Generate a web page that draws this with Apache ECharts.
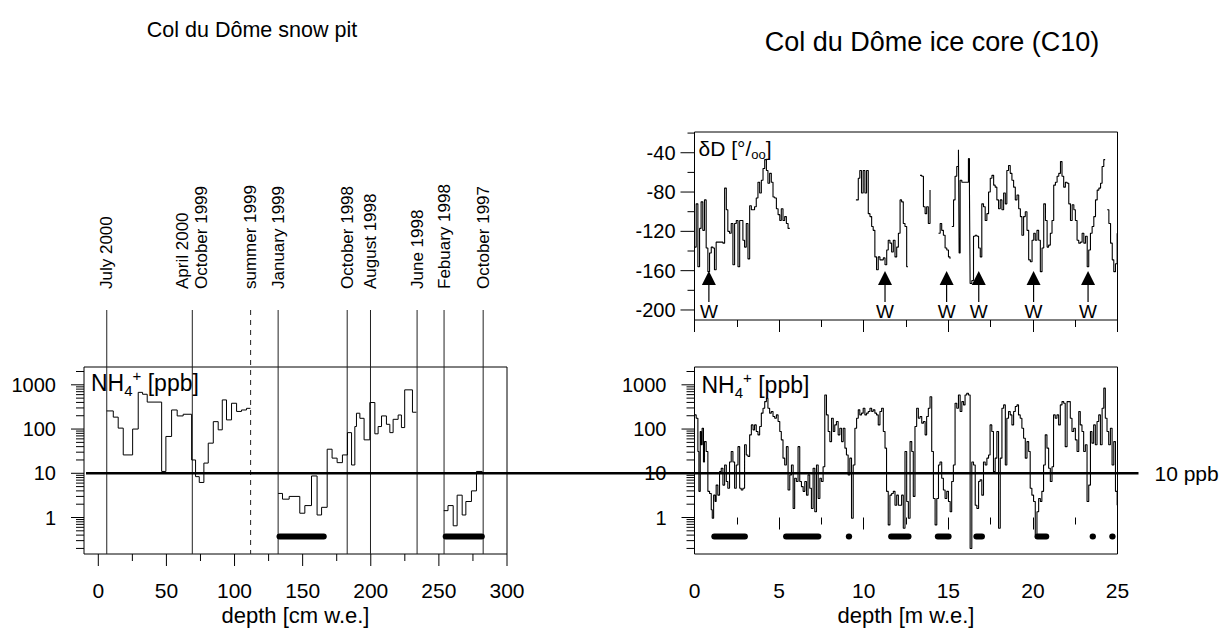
<!DOCTYPE html>
<html><head><meta charset="utf-8">
<script src="https://cdn.jsdelivr.net/npm/echarts@6/dist/echarts.min.js"></script>
<style>html,body{margin:0;padding:0;background:#fff}#c{width:1228px;height:633px}</style>
</head><body><div id="c"></div>
<script>
const FONT = '"Liberation Sans", Arial, Helvetica, sans-serif';

// ---------------- DATA ----------------
// Snow pit: [depth cm w.e. where the step starts, NH4+ ppb]; last row closes the segment
const pitSeg1 = [[6.1,257],[11,186],[14.6,105],[18.3,26],[25.2,100],[29.3,676],[32.5,612],[35.9,407],[46.5,11],[49.6,68],[53.8,270],[57.9,198],[62.3,216],[68.5,20],[71.4,8.4],[74.1,6.2],[77.5,17],[80.7,48],[84.4,147],[88,96],[91,456],[94.1,161],[97.8,383],[101.5,250],[105.1,270],[108.8,294],[111.7,294]];
const pitSeg2 = [[132,3.5],[135.2,2.6],[140.1,3.0],[147.9,1.25],[151.6,1.86],[156.5,8.7],[160.6,1.14],[163.9,1.7],[168,35],[171.6,22],[175.3,17.4],[179.2,26],[182.9,83],[185.9,15.4],[188.3,114],[189.5,228],[192,175],[195.1,57],[199.3,398],[203,78],[205.4,114],[207.9,198],[211.5,128],[214,83],[216.4,166],[220.1,208],[222.5,108],[224.9,770],[230.6,240],[233.5,240]];
const pitSeg3 = [[253.6,1.43],[256.7,1.86],[260.5,0.65],[263.4,3.2],[267.1,1.14],[269.8,2.3],[273.9,4.0],[277.6,11],[282,11]];
// low-NH4 intervals (thick bars), cm w.e.
const pitLowBars = [[133,165.5],[255,281.5]];
// dating horizons
const pitDateDepths = [6.2, 69, 111.8, 132, 182.7, 199.8, 234, 253.8, 282.5];
const pitDateLabels = ['July 2000','April 2000\nOctober 1999','summer 1999','January 1999','October 1998','August 1998','June 1998','Febuary 1998','October 1997'];
const pitDateUncertain = [false,false,true,false,false,false,false,false,false];

// Ice core C10 NH4+: [depth m w.e., ppb]
const coreNH4 = [[0.00,209],[0.10,176],[0.20,31],[0.26,3.9],[0.34,88],[0.39,44],[0.45,104],[0.53,18],[0.59,52],[0.69,31],[0.79,3.9],[0.89,3.5],[0.99,1.5],[1.05,0.96],[1.13,3.2],[1.22,2.3],[1.28,5.4],[1.38,3.2],[1.48,10.9],[1.58,13],[1.68,5.4],[1.78,15.4],[1.88,6.5],[1.97,4.6],[2.07,18],[2.17,31],[2.27,18],[2.37,4.6],[2.47,15.4],[2.57,40],[2.67,4.6],[2.76,4.2],[2.86,4.6],[2.96,44],[3.06,26],[3.16,24],[3.26,74],[3.36,124],[3.46,96],[3.55,124],[3.65,88],[3.75,74],[3.85,114],[3.95,229],[4.05,296],[4.15,418],[4.25,497],[4.34,296],[4.44,229],[4.54,249],[4.64,192],[4.74,176],[4.84,209],[4.94,148],[5.04,88],[5.13,57],[5.23,22],[5.33,15.4],[5.43,40],[5.53,4.2],[5.63,9.2],[5.73,15.4],[5.83,1.6],[5.92,7.7],[6.02,6.5],[6.12,40],[6.22,6.5],[6.32,5.0],[6.42,3.9],[6.52,6.5],[6.62,3.2],[6.71,9.2],[6.81,4.6],[6.91,1.6],[7.01,13],[7.11,1.35],[7.21,15.4],[7.31,2.7],[7.41,7.7],[7.50,6.5],[7.60,14.1],[7.70,589],[7.80,209],[7.90,88],[8.00,52],[8.10,176],[8.20,88],[8.29,124],[8.39,148],[8.49,74],[8.59,104],[8.69,52],[8.79,104],[8.89,37],[8.98,26],[9.08,9.2],[9.18,22],[9.28,0.96],[9.38,15.4],[9.48,104],[9.58,176],[9.68,272],[9.77,209],[9.87,229],[9.97,296],[10.07,209],[10.17,229],[10.27,249],[10.37,296],[10.47,249],[10.56,272],[10.66,229],[10.76,209],[10.86,124],[10.96,249],[11.06,296],[11.16,88],[11.26,37],[11.35,3.9],[11.45,0.68],[11.55,3.2],[11.65,3.5],[11.75,3.9],[11.85,1.9],[11.95,3.2],[12.05,1.9],[12.24,3.2],[12.34,0.57],[12.44,31],[12.54,2.3],[12.64,0.96],[12.74,52],[12.84,31],[12.93,3.0],[13.03,114],[13.13,296],[13.23,176],[13.33,192],[13.43,136],[13.53,148],[13.63,74],[13.72,192],[13.82,296],[13.92,539],[14.02,31],[14.12,2.7],[14.22,0.68],[14.32,2.7],[14.42,15.4],[14.51,18],[14.61,7.7],[14.71,4.2],[14.81,2.7],[14.91,3.9],[15.01,2.3],[15.11,1.35],[15.20,6.5],[15.30,15.4],[15.40,383],[15.50,296],[15.60,589],[15.70,249],[15.80,418],[15.90,352],[15.99,589],[16.09,646],[16.19,589],[16.29,0.20],[16.39,18],[16.49,15.4],[16.59,1.9],[16.69,1.6],[16.79,6.5],[16.88,7.1],[16.98,3.2],[17.08,18],[17.18,15.4],[17.28,22],[17.38,26],[17.47,124],[17.57,88],[17.67,10.9],[17.77,22],[17.87,88],[17.97,0.57],[18.07,22],[18.17,296],[18.27,352],[18.37,15.4],[18.46,176],[18.56,249],[18.66,209],[18.76,124],[18.86,249],[18.96,323],[19.06,352],[19.15,209],[19.25,176],[19.35,104],[19.45,62],[19.55,22],[19.65,52],[19.75,31],[19.84,4.6],[19.94,3.2],[20.04,2.3],[20.14,0.40],[20.24,1.35],[20.34,2.7],[20.44,2.3],[20.53,3.9],[20.63,15.4],[20.73,74],[20.83,37],[20.93,13],[21.03,6.5],[21.13,14.1],[21.22,209],[21.32,176],[21.42,209],[21.52,124],[21.62,352],[21.72,418],[21.82,383],[21.91,40],[22.02,418],[22.11,418],[22.21,176],[22.31,88],[22.41,104],[22.51,57],[22.61,31],[22.71,249],[22.80,124],[22.90,88],[23.00,31],[23.10,44],[23.20,2.3],[23.30,5.4],[23.40,88],[23.49,48],[23.59,124],[23.69,44],[23.79,148],[23.89,209],[23.99,44],[24.09,296],[24.19,840],[24.28,176],[24.38,88],[24.48,44],[24.58,104],[24.68,15.4],[24.78,52],[24.88,3.9],[24.98,1.9],[25.0,1.9]];
const coreLowBars = [[1.17,2.98],[5.41,7.32],[9.12,9.14],[11.62,12.65],[14.38,15.02],[16.66,16.99],[20.27,20.79],[23.53,23.55],[24.69,24.71]];

// Ice core C10 deltaD (per mil): segments [depth m w.e., dD]
const dDSeg1 = [[0.00,-136],[0.10,-92],[0.20,-156],[0.30,-117],[0.39,-90],[0.49,-119],[0.59,-88],[0.69,-137],[0.79,-161],[0.89,-142],[0.99,-136],[1.09,-137],[1.18,-159],[1.28,-131],[1.68,-132],[1.78,-76],[1.88,-98],[1.97,-120],[2.07,-122],[2.17,-112],[2.27,-154],[2.37,-112],[2.47,-109],[2.57,-156],[2.67,-109],[2.86,-129],[2.96,-136],[3.06,-112],[3.16,-148],[3.26,-94],[3.36,-98],[3.55,-95],[3.65,-86],[3.75,-70],[3.85,-81],[3.95,-68],[4.05,-56],[4.15,-47],[4.25,-58],[4.34,-71],[4.44,-61],[4.54,-70],[4.64,-85],[4.74,-86],[4.84,-97],[4.94,-103],[5.04,-109],[5.13,-97],[5.23,-109],[5.33,-105],[5.43,-112],[5.53,-117],[5.63,-117]];
const dDSeg2 = [[9.54,-88],[9.68,-66],[9.77,-58],[9.87,-81],[9.97,-58],[10.07,-81],[10.17,-58],[10.27,-102],[10.37,-105],[10.47,-115],[10.56,-119],[10.66,-146],[10.76,-159],[10.86,-146],[10.96,-149],[11.16,-147],[11.26,-154],[11.36,-139],[11.45,-129],[11.55,-132],[11.65,-141],[11.75,-129],[11.85,-146],[11.95,-136],[12.05,-122],[12.15,-88],[12.24,-90],[12.34,-112],[12.44,-115],[12.54,-156],[12.62,-156]];
const dDSeg3 = [[13.33,-63],[13.43,-64],[13.53,-95],[13.63,-102],[13.72,-95],[13.82,-112],[13.92,-78],[13.96,-78]];
const dDSeg4 = [[14.42,-122],[14.52,-112],[14.61,-119],[14.71,-124],[14.81,-137],[14.91,-139],[15.01,-146],[15.10,-148]];
const dDSeg5 = [[15.21,-115],[15.31,-88],[15.40,-64],[15.50,-54],[15.60,-37],[15.64,-142],[15.70,-68],[15.80,-70],[16.09,-70],[16.19,-46],[16.25,-78],[16.29,-173],[16.39,-170],[16.49,-125],[16.59,-124],[16.69,-125],[16.79,-137],[16.89,-146],[16.98,-92],[17.08,-95],[17.18,-109],[17.28,-102],[17.38,-80],[17.48,-66],[17.58,-63],[17.68,-73],[17.77,-75],[17.87,-88],[17.97,-97],[18.07,-88],[18.17,-98],[18.27,-81],[18.37,-92],[18.46,-58],[18.56,-53],[18.66,-61],[18.76,-68],[18.86,-75],[18.96,-88],[19.06,-83],[19.16,-97],[19.26,-105],[19.35,-124],[19.45,-105],[19.55,-100],[19.65,-119],[19.75,-149],[19.85,-151],[19.95,-129],[20.05,-122],[20.14,-129],[20.24,-119],[20.34,-129],[20.44,-161],[20.54,-137],[20.64,-92],[20.74,-109],[20.84,-136],[20.93,-134],[21.03,-122],[21.13,-109],[21.23,-73],[21.33,-70],[21.43,-64],[21.53,-61],[21.63,-49],[21.72,-64],[21.82,-75],[21.92,-70],[22.02,-71],[22.12,-92],[22.22,-109],[22.32,-93],[22.42,-98],[22.51,-109],[22.61,-129],[22.71,-132],[22.81,-131],[22.91,-122],[23.01,-132],[23.11,-125],[23.21,-156],[23.30,-139],[23.40,-122],[23.50,-115],[23.60,-105],[23.70,-88],[23.80,-78],[23.90,-76],[24.00,-71],[24.09,-54],[24.19,-47],[24.27,-47]];
const dDSeg6 = [[24.39,-98],[24.49,-112],[24.59,-132],[24.69,-149],[24.78,-161],[24.88,-153],[24.98,-122],[25.0,-122]];
// winter markers (m w.e.)
const winterDepths = [0.85, 11.26, 14.9, 16.8, 20.04, 23.26];
const winterLabel = 'W';

// threshold
const THRESHOLD_PPB = 10;
const LOW_BAR_LEVEL_PPB = 0.37;

// axis ranges & ticks
const PIT_X = [-10.5, 300];
const CORE_X = [0, 25];
const NH4_LOG = [-0.825, 3.403];
const DD_Y = [-210.2, -18.9];
const pitXMajor = [0,50,100,150,200,250,300];
const pitXMajorLabels = ['0','50','100','150','200','250','300'];
const pitXMinor = [25,75,125,175,225,275];
const nh4Major = [1,10,100,1000];
const nh4MajorLabels = ['1','10','100','1000'];
const nh4Minor = [0.2,0.3,0.4,0.5,0.6,0.7,0.8,0.9,2,3,4,5,6,7,8,9,20,30,40,50,60,70,80,90,200,300,400,500,600,700,800,900,2000];
const dDMajor = [-200,-160,-120,-80,-40];
const dDMajorLabels = ['-200','-160','-120','-80','-40'];
const dDMinor = [-180,-140,-100,-60,-20];

// ---------------- BUILD ----------------
const lg = v => Math.log10(v);
function joinSegs(segs, f) {
  const out = [];
  segs.forEach((s, i) => { if (i) out.push(['-', '-']); s.forEach(p => out.push([p[0], f ? f(p[1]) : p[1]])); });
  return out;
}
function tickList(major, labels, minor, f) {
  const t = major.map((v, i) => ({v: f ? f(v) : v, label: labels[i]}));
  minor.forEach(v => t.push({v: f ? f(v) : v, label: null}));
  return t;
}
function yTicks(idx, anchor, ticks, majorLen, minorLen, gap, fs) {
  return {
    type: 'custom', xAxisIndex: idx, yAxisIndex: idx, clip: false, silent: true, z: 10,
    data: ticks.map(t => [anchor, t.v]), encode: {x: 0, y: 1},
    renderItem(params, api) {
      const t = ticks[params.dataIndex];
      const p = api.coord([api.value(0), api.value(1)]);
      const len = t.label != null ? majorLen : minorLen;
      const ch = [{type: 'line', shape: {x1: p[0] - len, y1: p[1], x2: p[0], y2: p[1]}, style: {stroke: '#000', lineWidth: 1}}];
      if (t.label != null) ch.push({type: 'text', style: {text: t.label, x: p[0] - majorLen - gap, y: p[1], align: 'right', verticalAlign: 'middle', fontSize: fs, fontFamily: FONT, fill: '#000'}});
      return {type: 'group', children: ch};
    }
  };
}
function xTicks(idx, anchor, ticks, majorLen, minorLen, offset, fs) {
  return {
    type: 'custom', xAxisIndex: idx, yAxisIndex: idx, clip: false, silent: true, z: 10,
    data: ticks.map(t => [t.v, anchor]), encode: {x: 0, y: 1},
    renderItem(params, api) {
      const t = ticks[params.dataIndex];
      const p = api.coord([api.value(0), api.value(1)]);
      const len = t.label != null ? majorLen : minorLen;
      const ch = [{type: 'line', shape: {x1: p[0], y1: p[1], x2: p[0], y2: p[1] + len}, style: {stroke: '#000', lineWidth: 1}}];
      if (t.label != null) ch.push({type: 'text', style: {text: t.label, x: p[0], y: p[1] + offset, align: 'center', verticalAlign: 'middle', fontSize: fs, fontFamily: FONT, fill: '#000'}});
      return {type: 'group', children: ch};
    }
  };
}
function barSeries(idx, bars, level) {
  return {
    type: 'custom', xAxisIndex: idx, yAxisIndex: idx, silent: true, z: 4,
    data: bars.map(b => [b[0], level, b[1]]), encode: {x: [0, 2], y: 1},
    renderItem(params, api) {
      const a = api.coord([api.value(0), api.value(1)]);
      const b = api.coord([api.value(2), api.value(1)]);
      return {type: 'line', shape: {x1: a[0], y1: a[1], x2: b[0], y2: b[1]}, style: {stroke: '#000', lineWidth: 6, lineCap: 'round'}};
    }
  };
}
const stepLine = (idx, data, w) => ({type: 'line', xAxisIndex: idx, yAxisIndex: idx, data, step: 'end', symbol: 'none', connectNulls: false, silent: true, z: 3, lineStyle: {color: '#000', width: w || 1}});
const hiddenAxis = (gi, range, extra) => Object.assign({type: 'value', gridIndex: gi, min: range[0], max: range[1], axisLine: {show: false}, axisTick: {show: false}, axisLabel: {show: false}, splitLine: {show: false}}, extra || {});
const box = {show: true, borderColor: '#000', borderWidth: 1, backgroundColor: 'transparent'};

const coreX = (gi, withLabels) => ({
  type: 'value', gridIndex: gi, min: CORE_X[0], max: CORE_X[1], interval: 5,
  axisLine: {show: false}, splitLine: {show: false},
  axisTick: {show: true, length: 12, lineStyle: {color: '#000', width: 1}},
  minorTick: {show: true, splitNumber: 2, length: 7, lineStyle: {color: '#000', width: 1}},
  axisLabel: {show: withLabels, fontSize: 21, fontFamily: FONT, color: '#000', margin: 26},
  name: withLabels ? 'depth [m w.e.]' : '', nameLocation: 'middle', nameGap: 50,
  nameTextStyle: {fontSize: 22, fontFamily: FONT, color: '#000'}
});

const option = {
  animation: false,
  backgroundColor: '#fff',
  title: [
    {text: 'Col du Dôme snow pit', left: 252, top: 19, textAlign: 'center', padding: 0, textStyle: {fontSize: 21.5, fontWeight: 'normal', fontFamily: FONT, color: '#000'}},
    {text: 'Col du Dôme ice core (C10)', left: 932, top: 28, textAlign: 'center', padding: 0, textStyle: {fontSize: 27, fontWeight: 'normal', fontFamily: FONT, color: '#000'}}
  ],
  grid: [
    Object.assign({left: 84, top: 367, width: 423, height: 187}, box),
    Object.assign({left: 694.5, top: 367, width: 423, height: 187}, box),
    Object.assign({left: 694.5, top: 132, width: 423, height: 188}, box)
  ],
  xAxis: [
    hiddenAxis(0, PIT_X, {name: 'depth [cm w.e.]', nameLocation: 'middle', nameGap: 50, nameTextStyle: {fontSize: 22, fontFamily: FONT, color: '#000'}}),
    coreX(1, true),
    coreX(2, false)
  ],
  yAxis: [hiddenAxis(0, NH4_LOG), hiddenAxis(1, NH4_LOG), hiddenAxis(2, DD_Y)],
  series: [
    stepLine(0, joinSegs([pitSeg1, pitSeg2, pitSeg3], lg)),
    barSeries(0, pitLowBars, lg(LOW_BAR_LEVEL_PPB)),
    {
      type: 'custom', xAxisIndex: 0, yAxisIndex: 0, clip: false, silent: true, z: 2,
      data: pitDateDepths.map(d => [d, NH4_LOG[0]]), encode: {x: 0, y: 1},
      renderItem(params, api) {
        const i = params.dataIndex;
        const p = api.coord([api.value(0), api.value(1)]);
        return {type: 'group', children: [
          {type: 'line', shape: {x1: p[0], y1: p[1] - 244, x2: p[0], y2: p[1]}, style: {stroke: '#222', lineWidth: 1, lineDash: pitDateUncertain[i] ? [5, 5] : null}},
          {type: 'text', x: p[0], y: p[1] - 265, rotation: Math.PI / 2, style: {text: pitDateLabels[i], x: 0, y: 0, align: 'left', verticalAlign: 'middle', fontSize: 17, lineHeight: 19, fontFamily: FONT, fill: '#000'}}
        ]};
      }
    },
    stepLine(1, joinSegs([coreNH4], lg), 1.1),
    barSeries(1, coreLowBars, lg(LOW_BAR_LEVEL_PPB)),
    stepLine(2, joinSegs([dDSeg1, dDSeg2, dDSeg3, dDSeg4, dDSeg5, dDSeg6]), 1.1),
    {
      type: 'custom', xAxisIndex: 2, yAxisIndex: 2, clip: false, silent: true, z: 6,
      data: winterDepths.map(d => [d, DD_Y[0]]), encode: {x: 0, y: 1},
      renderItem(params, api) {
        const p = api.coord([api.value(0), api.value(1)]);
        const x = p[0], b = p[1];
        return {type: 'group', children: [
          {type: 'polygon', shape: {points: [[x, b - 49], [x - 7, b - 35], [x + 7, b - 35]]}, style: {fill: '#000'}},
          {type: 'line', shape: {x1: x, y1: b - 35, x2: x, y2: b - 18}, style: {stroke: '#000', lineWidth: 1.2}},
          {type: 'text', style: {text: winterLabel, x: x, y: b - 9, align: 'center', verticalAlign: 'middle', fontSize: 19, fontFamily: FONT, fill: '#000'}}
        ]};
      }
    },
    yTicks(0, PIT_X[0], tickList(nh4Major, nh4MajorLabels, nh4Minor, lg), 13, 8, 15, 20),
    xTicks(0, NH4_LOG[0], tickList(pitXMajor, pitXMajorLabels, pitXMinor), 12, 7, 36, 21),
    yTicks(1, CORE_X[0], tickList(nh4Major, nh4MajorLabels, nh4Minor, lg), 13, 8, 15, 20),
    yTicks(2, CORE_X[0], tickList(dDMajor, dDMajorLabels, dDMinor), 14, 7, 5, 20)
  ]
};

const chart = echarts.init(document.getElementById('c'), null, {renderer: 'svg', width: 1228, height: 633});
chart.setOption(option);

// overlay: threshold line across both NH4 panels, panel labels
const pL = chart.convertToPixel({gridIndex: 0}, [PIT_X[0], lg(THRESHOLD_PPB)]);
const pR = chart.convertToPixel({gridIndex: 1}, [CORE_X[1], lg(THRESHOLD_PPB)]);
const gL = chart.convertToPixel({gridIndex: 0}, [PIT_X[0], NH4_LOG[1]]);
const gR = chart.convertToPixel({gridIndex: 1}, [CORE_X[0], NH4_LOG[1]]);
const gD = chart.convertToPixel({gridIndex: 2}, [CORE_X[0], DD_Y[1]]);
const nh4Rich = {
  n: {fontSize: 23, fontFamily: FONT, color: '#000', lineHeight: 30},
  sub: {fontSize: 15, fontFamily: FONT, color: '#000', lineHeight: 12, verticalAlign: 'bottom'},
  sup: {fontSize: 15, fontFamily: FONT, color: '#000', lineHeight: 14, verticalAlign: 'top'}
};
const nh4Text = '{n|NH}{sub|4}{sup|+}{n| [ppb]}';
chart.setOption({graphic: [
  {type: 'line', z: 100, shape: {x1: pL[0] + 2, y1: pL[1], x2: pR[0] + 21, y2: pR[1]}, style: {stroke: '#000', lineWidth: 2.5}},
  {type: 'text', z: 100, x: pR[0] + 37, y: pR[1], style: {text: THRESHOLD_PPB + ' ppb', fontSize: 21, fontFamily: FONT, fill: '#000', verticalAlign: 'middle'}},
  {type: 'text', z: 100, x: gL[0] + 7, y: gL[1] + 1, style: {text: nh4Text, rich: nh4Rich, verticalAlign: 'top'}},
  {type: 'text', z: 100, x: gR[0] + 7, y: gR[1] + 3, style: {text: nh4Text, rich: nh4Rich, verticalAlign: 'top'}},
  {type: 'text', z: 100, x: gD[0] + 4, y: gD[1] + 3, style: {text: '{a|δD [°/}{s|oo}{a|]}', verticalAlign: 'top', rich: {
    a: {fontSize: 21, fontFamily: FONT, color: '#000', lineHeight: 26},
    s: {fontSize: 13, fontFamily: FONT, color: '#000', lineHeight: 14, verticalAlign: 'bottom'}
  }}}
]});
</script>
</body></html>
